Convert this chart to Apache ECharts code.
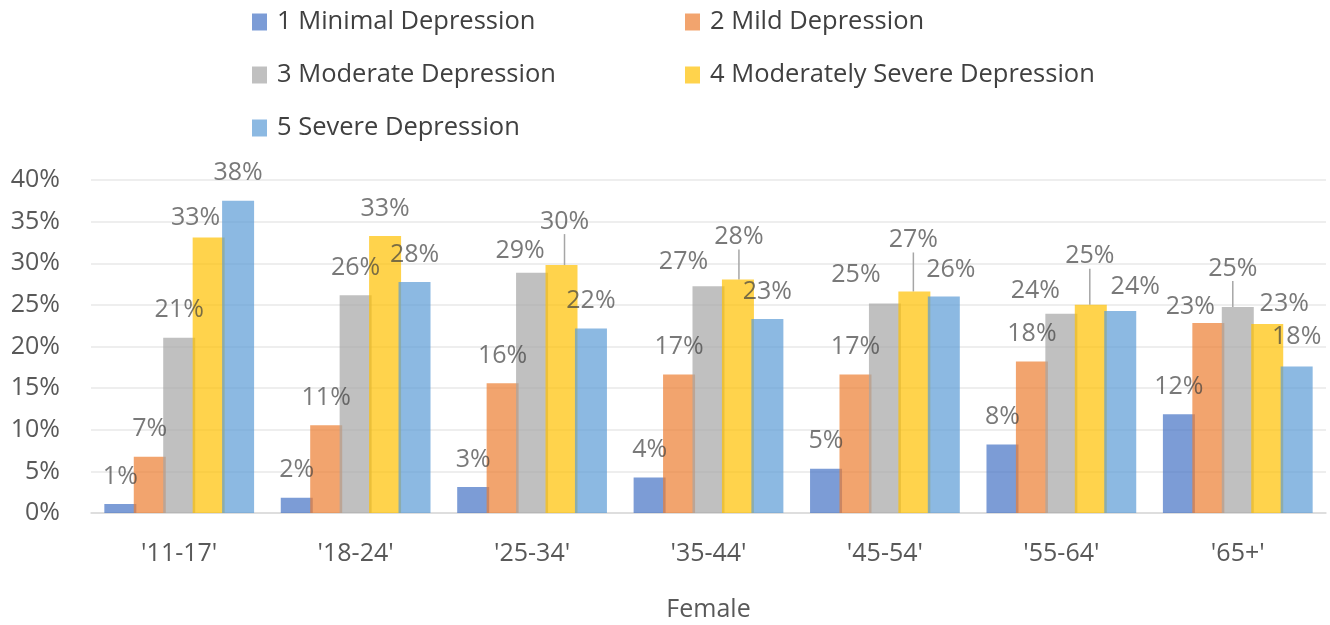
<!DOCTYPE html>
<html>
<head>
<meta charset="utf-8">
<script src="https://cdn.jsdelivr.net/npm/echarts@6/dist/echarts.min.js"></script>
<style>
  html, body { margin: 0; padding: 0; background: #fff; }
  #chart { width: 1330px; height: 625px; }
</style>
</head>
<body>
<div id="chart"></div>
<script>
// Share of female respondents in each depression band, by age group (percent)
const categories = ["'11-17'", "'18-24'", "'25-34'", "'35-44'", "'45-54'", "'55-64'", "'65+'"];
const seriesNames = [
  '1 Minimal Depression',
  '2 Mild Depression',
  '3 Moderate Depression',
  '4 Moderately Severe Depression',
  '5 Severe Depression'
];
const minimal   = [1.08, 1.84, 3.13, 4.25, 5.33, 8.22, 11.86];
const mild      = [6.77, 10.55, 15.6, 16.63, 16.63, 18.2, 22.81];
const moderate  = [21.04, 26.17, 28.86, 27.25, 25.17, 23.93, 24.73];
const modSevere = [33.1, 33.27, 29.78, 28.06, 26.61, 25.01, 22.69];
const severe    = [37.5, 27.74, 22.16, 23.29, 26.01, 24.25, 17.6];
const yTicks = [0, 5, 10, 15, 20, 25, 30, 35, 40];

const seriesValues = [minimal, mild, moderate, modSevere, severe];
const colors = ['#4472C4', '#ED7D31', '#A5A5A5', '#FFC000', '#5B9BD5'];

// Hand-placed label nudges [dx, dy] keyed by "series-category"; "lead" adds a leader line
const labelNudge = {
  '3-0': [-13, 8],
  '2-2': [-12, 6],
  '3-2': [3, -16, 'lead'],
  '2-3': [-25, 3],
  '3-3': [1, -15, 'lead'],
  '2-4': [-29, -1],
  '3-4': [-1, -24, 'lead'],
  '4-4': [7, 1],
  '2-5': [-26, 5],
  '3-5': [-1, -21, 'lead'],
  '4-5': [15, 3],
  '1-6': [-18, 11],
  '2-6': [-5, -11, 'lead'],
  '3-6': [17, 7],
  '4-6': [0, -2]
};

const font = '"Open Sans", "Noto Sans", sans-serif';

const series = seriesValues.map(function (vals, si) {
  return {
    name: seriesNames[si],
    type: 'bar',
    barWidth: 32,
    barGap: '-8%',
    itemStyle: { color: colors[si], opacity: 0.7 },
    label: {
      show: true,
      position: 'top',
      distance: 15,
      fontFamily: font,
      fontSize: 25,
      lineHeight: 25,
      color: '#404040',
      formatter: function (p) { return Math.round(p.value) + '%'; }
    },
    labelLine: { show: false },
    labelLayout: function (p) {
      const n = labelNudge[si + '-' + p.dataIndex];
      return n ? { dx: n[0], dy: n[1] } : {};
    },
    data: vals.map(function (v, ci) {
      const n = labelNudge[si + '-' + ci];
      if (n && n[2] === 'lead') {
        return {
          value: v,
          labelLine: { show: true, lineStyle: { color: '#A6A6A6', width: 1.5 } }
        };
      }
      return v;
    })
  };
});

// Legend laid out as two columns of swatch + text
const legendSlots = [
  { left: 252, top: 9 },
  { left: 685, top: 9 },
  { left: 252, top: 62 },
  { left: 685, top: 62 },
  { left: 252, top: 115 }
];
const legends = seriesNames.map(function (name, i) {
  return {
    data: [name],
    left: legendSlots[i].left,
    top: legendSlots[i].top,
    padding: 0,
    icon: 'rect',
    itemWidth: 15,
    itemHeight: 17,
    selectedMode: false,
    textStyle: {
      fontFamily: font,
      fontSize: 25.5,
      lineHeight: 26,
      color: '#404040',
      padding: [0, 0, 0, 5]
    }
  };
});

const chart = echarts.init(document.getElementById('chart'), null, { renderer: 'canvas' });
chart.setOption({
  animation: false,
  backgroundColor: '#ffffff',
  color: colors,
  legend: legends,
  grid: { left: 91, right: 4, top: 180, bottom: 112, outerBoundsMode: 'none', containLabel: false },
  xAxis: {
    type: 'category',
    data: categories,
    name: 'Female',
    nameLocation: 'middle',
    nameGap: 84,
    nameTextStyle: { fontFamily: font, fontSize: 25, color: '#595959' },
    axisLine: { show: true, lineStyle: { color: '#D9D9D9', width: 1.5 } },
    axisTick: { show: false },
    axisLabel: { fontFamily: font, fontSize: 25, color: '#595959', margin: 28 }
  },
  yAxis: {
    type: 'value',
    min: yTicks[0],
    max: yTicks[yTicks.length - 1],
    interval: yTicks[1] - yTicks[0],
    axisLine: { show: false },
    axisTick: { show: false },
    splitLine: { lineStyle: { color: '#E8E8E8', width: 1.5 } },
    axisLabel: {
      fontFamily: font,
      fontSize: 25,
      color: '#595959',
      margin: 31,
      formatter: function (v) { return v + '%'; }
    }
  },
  series: series
});
</script>
</body>
</html>
